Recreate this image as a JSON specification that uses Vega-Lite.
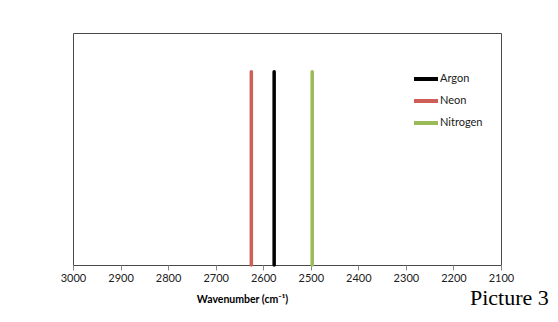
{
  "$schema": "https://vega.github.io/schema/vega-lite/v6.json",
  "width": 428,
  "height": 232,
  "autosize": {"type": "none"},
  "padding": {"left": 73, "top": 33, "right": 57, "bottom": 57},
  "background": "white",
  "config": {
    "view": {"stroke": "#4a4a4a", "strokeWidth": 1},
    "font": "Lato"
  },
  "title": {
    "text": "Picture 3",
    "orient": "bottom",
    "anchor": "end",
    "font": "Liberation Serif",
    "fontSize": 22,
    "fontWeight": "normal",
    "color": "#000000",
    "dx": 35,
    "dy": -21
  },
  "data": {
    "values": [
      {"gas": "Argon", "wavenumber": 2577, "intensity": 1},
      {"gas": "Neon", "wavenumber": 2625, "intensity": 1},
      {"gas": "Nitrogen", "wavenumber": 2497, "intensity": 1}
    ]
  },
  "mark": {"type": "rule", "strokeWidth": 3.5, "strokeCap": "round"},
  "encoding": {
    "x": {
      "field": "wavenumber",
      "type": "quantitative",
      "scale": {"domain": [3000, 2100], "nice": false, "zero": false},
      "axis": {
        "title": "Wavenumber (cm⁻¹)",
        "titleFont": "Lato",
        "titleFontSize": 10.5,
        "titleFontWeight": "bold",
        "titleColor": "#000000",
        "titleX": 169,
        "titleY": 34,
        "titleAlign": "center",
        "titleBaseline": "middle",
        "values": [3000, 2900, 2800, 2700, 2600, 2500, 2400, 2300, 2200, 2100],
        "format": "d",
        "grid": false,
        "domain": false,
        "tickColor": "#868686",
        "tickSize": 5,
        "labelFont": "Lato",
        "labelFontSize": 11,
        "labelColor": "#202020",
        "labelPadding": 2,
        "labelFlush": false,
        "labelOverlap": false
      }
    },
    "y": {
      "field": "intensity",
      "type": "quantitative",
      "scale": {"domain": [0, 1.2], "nice": false},
      "axis": null
    },
    "y2": {"datum": 0},
    "color": {
      "field": "gas",
      "type": "nominal",
      "scale": {"domain": ["Argon", "Neon", "Nitrogen"], "range": ["#000000", "#cd5f58", "#9bbb59"]},
      "legend": {
        "title": null,
        "orient": "none",
        "legendX": 339,
        "legendY": 32,
        "symbolType": "stroke",
        "symbolStrokeWidth": 4,
        "symbolSize": 576,
        "labelFont": "Lato",
        "labelFontSize": 11,
        "labelColor": "#202020",
        "labelOffset": 0,
        "rowPadding": -5,
        "padding": 0
      }
    }
  }
}
